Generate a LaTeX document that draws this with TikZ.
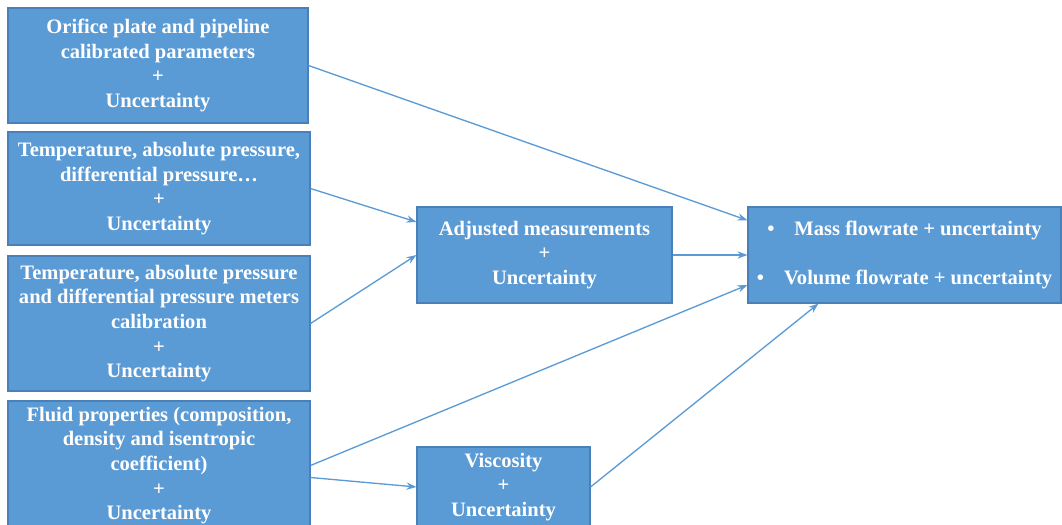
\documentclass[tikz,border=0pt]{standalone}
\usepackage{fontspec}
\setmainfont{Liberation Serif}
\usepackage{tikz}
\usetikzlibrary{arrows.meta}

\definecolor{boxfill}{HTML}{5B9BD5}
\definecolor{boxedge}{HTML}{4A80B8}

\begin{document}
\begin{tikzpicture}[x = 0.75pt, y = -0.75pt,
                        stage/.style = {rectangle, draw = boxedge, fill = boxfill, line width = 0.8pt,
                                        text = white, font = \fontsize{15.4}{18.5}\selectfont\bfseries,
                                        align = center, inner sep = 0pt},
                        flow/.style = {draw = boxfill, line width = 1pt, -{Stealth[length = 7.5pt, width = 5.5pt]}}]
      \useasboundingbox (0, 0) rectangle (1062, 524);
      \node [stage, minimum width = 225pt, minimum height = 86.25pt] (orifice) at (158, 65.5)
        {Orifice plate and pipeline\\calibrated parameters\\+\\Uncertainty};
      \node [stage, minimum width = 226.5pt, minimum height = 84.75pt] (meas) at (159, 188.5)
        {Temperature, absolute pressure,\\differential pressure\ldots\\+\\Uncertainty};
      \node [stage, minimum width = 226.5pt, minimum height = 101.25pt] (calib) at (159, 323.5)
        {Temperature, absolute pressure\\and differential pressure meters\\calibration\\+\\Uncertainty};
      \node [stage, minimum width = 226.5pt, minimum height = 96.75pt] (fluid) at (159, 465.5)
        {Fluid properties (composition,\\density and isentropic\\coefficient)\\+\\Uncertainty};
      \node [stage, minimum width = 191.25pt, minimum height = 72pt] (adjusted) at (544.5, 255)
        {Adjusted measurements\\+\\Uncertainty};
      \node [stage, minimum width = 129.75pt, minimum height = 60pt] (visc) at (503.5, 487)
        {Viscosity\\+\\Uncertainty};
      \node [stage, minimum width = 234.75pt, minimum height = 72pt] (flowrate) at (904.5, 255)
        {\textbullet\hspace{15pt}Mass flowrate + uncertainty\\[18pt]
         \textbullet\hspace{15pt}Volume flowrate + uncertainty};
      \draw [flow] (orifice.east) -- ([yshift = 26pt]flowrate.west);
      \draw [flow] (meas.east) -- ([yshift = 24.75pt]adjusted.west);
      \draw [flow] (calib.east) -- (adjusted.west);
      \draw [flow] (adjusted.east) -- (flowrate.west);
      \draw [flow] (fluid.east) -- ([yshift = -22.5pt]flowrate.west);
      \draw [flow] ([yshift = -9pt]fluid.east) -- (visc.west);
      \draw [flow] (visc.east) -- ([xshift = -64.5pt]flowrate.south);
    \end{tikzpicture}
\end{document}
